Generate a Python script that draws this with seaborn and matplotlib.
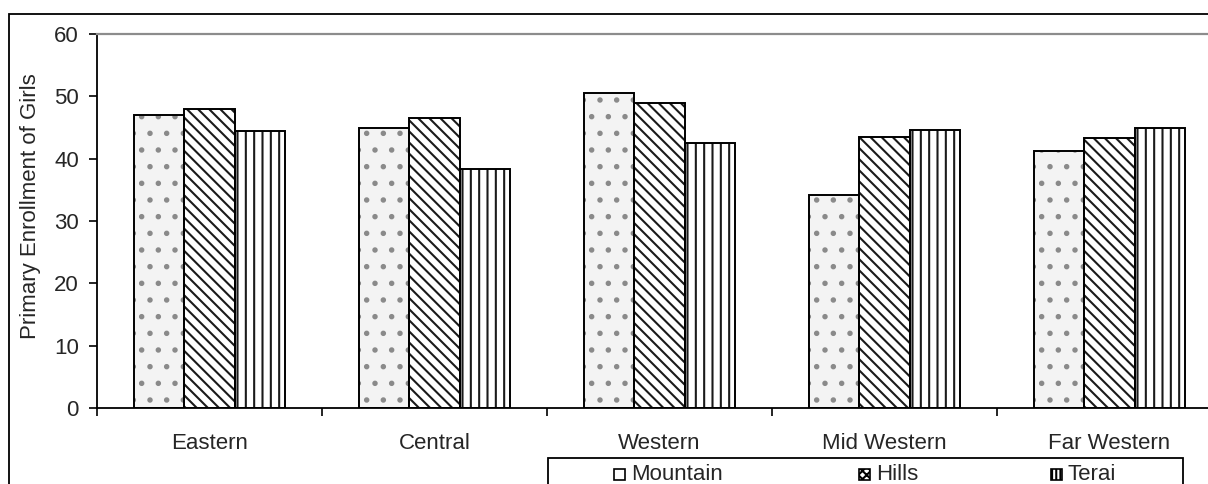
import matplotlib
matplotlib.use("Agg")
import matplotlib.pyplot as plt
from matplotlib.patches import Rectangle
import numpy as np
import pandas as pd
import seaborn as sns

regions = ["Eastern", "Central", "Western", "Mid Western", "Far Western"]
zones = ["Mountain", "Hills", "Terai"]
mountain = [47.0, 45.0, 50.6, 34.2, 41.3]
hills = [48.0, 46.6, 48.9, 43.5, 43.3]
terai = [44.4, 38.3, 42.5, 44.6, 45.0]
y_ticks = [0, 10, 20, 30, 40, 50, 60]
y_label = "Primary Enrollment of Girls"

sns.set_theme(style="white")
plt.rcParams["font.family"] = ["Liberation Sans", "DejaVu Sans"]
plt.rcParams["hatch.linewidth"] = 1.5

FS = 16

df = pd.DataFrame({
    "Region": np.repeat(regions, len(zones)),
    "Zone": zones * len(regions),
    "Value": np.ravel(np.column_stack([mountain, hills, terai])),
})

faces = {"Mountain": "#f3f3f3", "Hills": "#ffffff", "Terai": "#ffffff"}
hatches = {"Mountain": ".", "Hills": "\\\\\\", "Terai": "||"}
hatch_colors = {"Mountain": "#8a8a8a", "Hills": "#1a1a1a", "Terai": "#1a1a1a"}

W, H = 1208, 484
fig = plt.figure(figsize=(W / 100, H / 100), dpi=100)
ax = fig.add_axes([97 / W, (H - 408) / H, 1125 / W, 374 / H])

sns.barplot(data=df, x="Region", y="Value", hue="Zone", order=regions,
            hue_order=zones, palette=faces, width=0.67, gap=0,
            edgecolor="black", linewidth=1.3, saturation=1, legend=False,
            ax=ax, errorbar=None)

# hatch each bar by zone; the hatch takes the edge colour, so a black
# outline is laid over each bar afterwards
for cont, z in zip(ax.containers, zones):
    for bar in cont:
        bar.set_hatch(hatches[z])
        bar.set_edgecolor(hatch_colors[z])
        bar.set_linewidth(0)
        ax.add_patch(Rectangle(bar.get_xy(), bar.get_width(), bar.get_height(),
                               fill=False, edgecolor="black", linewidth=1.4,
                               zorder=bar.get_zorder() + 0.1))

ax.set_xlim(-0.5, 4.5)
ax.set_ylim(0, 60)
ax.set_yticks(y_ticks)
ax.set_yticklabels([str(t) for t in y_ticks], fontsize=FS)
ax.set_ylabel(y_label, fontsize=FS)
ax.yaxis.set_label_coords(-0.050, 0.54)
ax.set_xlabel("")

# separators between categories as major ticks, names as minor ticks
ax.set_xticks(np.arange(-0.5, 5.0, 1.0))
ax.set_xticklabels([])
ax.set_xticks(np.arange(len(regions)), minor=True)
ax.set_xticklabels(regions, minor=True, fontsize=FS)
ax.tick_params(axis="x", which="major", direction="out", length=6,
               width=1.2, color="black", bottom=True)
ax.tick_params(axis="x", which="minor", length=0, pad=18)
ax.tick_params(axis="y", direction="out", length=6, width=1.2,
               color="black", left=True, pad=7)

for side in ["left", "bottom"]:
    ax.spines[side].set_color("black")
    ax.spines[side].set_linewidth(1.3)
ax.spines["top"].set_color("#8c8c8c")
ax.spines["top"].set_linewidth(1.6)
ax.spines["right"].set_color("#8c8c8c")
ax.grid(False)

# outer chart frame
fig.patches.append(Rectangle((9 / W, -0.1), 1.2, (H - 14) / H + 0.1,
                             transform=fig.transFigure, fill=False,
                             edgecolor="black", linewidth=1.3))

# legend box with three entries
leg_left, leg_right, leg_top = 548, 1183, 458
fig.patches.append(Rectangle((leg_left / W, -0.1), (leg_right - leg_left) / W,
                             (H - leg_top) / H + 0.1,
                             transform=fig.transFigure, fill=False,
                             edgecolor="black", linewidth=1.3))
entry_x = [614, 859, 1051]
legend_faces = {"Mountain": "#ffffff", "Hills": "#ffffff", "Terai": "#ffffff"}
legend_hatches = {"Mountain": "", "Hills": "xxxx", "Terai": "||||"}
for z, ex in zip(zones, entry_x):
    fig.patches.append(Rectangle((ex / W, (H - 480) / H), 11 / W, 11 / H,
                                 transform=fig.transFigure,
                                 facecolor=legend_faces[z], edgecolor="black",
                                 hatch=legend_hatches[z], linewidth=1.2))
    fig.text((ex + 17) / W, (H - 475) / H, z, fontsize=FS,
             ha="left", va="center")

fig.savefig("out.png", dpi=100)
